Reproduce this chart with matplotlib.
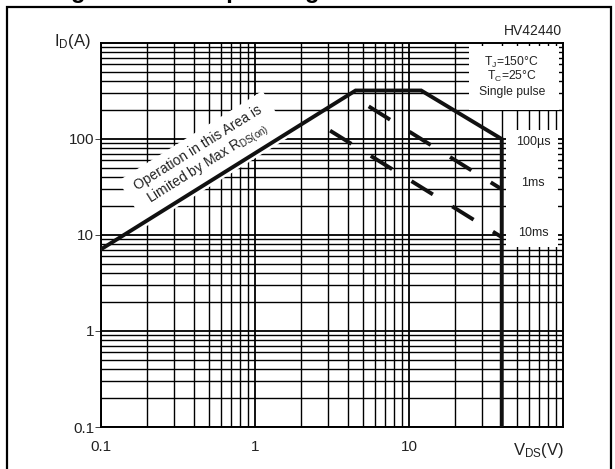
import numpy as np
import matplotlib
matplotlib.use("Agg")
import matplotlib.pyplot as plt
from matplotlib.ticker import LogLocator, NullFormatter
from matplotlib.patches import Rectangle

plt.rcParams['font.family'] = ['Liberation Sans', 'DejaVu Sans']
plt.rcParams['mathtext.fontset'] = 'custom'
plt.rcParams['mathtext.rm'] = 'Liberation Sans'
plt.rcParams['mathtext.it'] = 'Liberation Sans:italic'
plt.rcParams['lines.scale_dashes'] = False

# --- data ---
# SOA boundary: RDS(on) limit -> current limit -> 100us line -> VDSS
soa_v = [0.1, 4.5, 12, 40, 40]
soa_i = [7.1, 320, 320, 100, 0.1]
# 1 ms and 10 ms pulse lines (dashed)
ms1_v = [4.1, 40]
ms1_i = [292, 30]
ms10_v = [2.3, 40]
ms10_i = [163, 9.5]

x_ticks = [0.1, 1, 10]
x_labels = ["0.1", "1", "10"]
y_ticks = [0.1, 1, 10, 100]
y_labels = ["0.1", "1", "10", "100"]
pulse_labels = ["100µs", "1ms", "10ms"]
cond_labels = ["T$_{\\rm J}$=150°C", "T$_{\\rm C}$=25°C", "Single pulse"]

W, H = 615, 469
fig = plt.figure(figsize=(W / 100, H / 100), dpi=100)
ax = fig.add_axes([101 / W, 1 - 427 / H, 462 / W, 384 / H])

ax.set_xscale("log")
ax.set_yscale("log")
ax.set_xlim(0.1, 100)
ax.set_ylim(0.1, 1000)

ax.xaxis.set_minor_locator(LogLocator(base=10, subs=np.arange(2, 10)))
ax.yaxis.set_minor_locator(LogLocator(base=10, subs=np.arange(2, 10)))
ax.xaxis.set_minor_formatter(NullFormatter())
ax.yaxis.set_minor_formatter(NullFormatter())
ax.set_xticks(x_ticks)
ax.set_xticklabels(x_labels)
ax.set_yticks(y_ticks)
ax.set_yticklabels(y_labels)
ax.tick_params(axis="both", which="minor", length=0)
ax.tick_params(axis="x", which="major", length=0, pad=9, labelsize=11, colors="#222222")
ax.tick_params(axis="y", which="major", length=4, width=0.6, pad=1, labelsize=11, colors="#222222")

ax.grid(True, which="major", color="black", lw=1.3)
ax.grid(True, which="minor", color="black", lw=1.0)
ax.set_axisbelow(True)
for s in ax.spines.values():
    s.set_linewidth(1.4)
    s.set_color("black")

# white label panels that hide the grid
ax.add_patch(Rectangle((0.797, 0.826), 0.195, 0.166, transform=ax.transAxes,
                       fc="white", ec="none", zorder=2.5))
ax.add_patch(Rectangle((0.877, 0.470), 0.112, 0.303, transform=ax.transAxes,
                       fc="white", ec="none", zorder=2.5))

# curves
ax.plot(soa_v, soa_i, color="#111111", lw=2.8, solid_joinstyle="miter", zorder=4)
dash = (18.1, (18.1, 16.4))
ax.plot(ms1_v, ms1_i, color="#111111", lw=2.8, linestyle=dash, zorder=4)
ax.plot(ms10_v, ms10_i, color="#111111", lw=2.8, linestyle=dash, zorder=4)

# texts
for lab, yy in zip(cond_labels, [0.950, 0.912, 0.872]):
    ax.text(0.889, yy, lab, transform=ax.transAxes, ha="center", va="center",
            fontsize=8.7, color="#222222", zorder=3)
for lab, yy in zip(pulse_labels, [0.742, 0.636, 0.504]):
    ax.text(0.935, yy, lab, transform=ax.transAxes, ha="center", va="center",
            fontsize=9, color="#222222", zorder=3)

ax.text(0.222, 0.703, "Operation in this Area is\nLimited by Max R$_{\\rm DS(on)}$",
        transform=ax.transAxes, rotation=32, rotation_mode="anchor",
        ha="center", va="center", multialignment="center", fontsize=10,
        color="#222222", linespacing=1.1, zorder=3,
        bbox=dict(fc="white", ec="none", pad=8))

ax.text(-0.022, 1.003, "I$_{\\rm D}$(A)", transform=ax.transAxes, ha="right",
        va="center", fontsize=12, color="#222222")
ax.text(0.997, 1.03, "HV42440", transform=ax.transAxes, ha="right",
        va="center", fontsize=10, color="#222222")
ax.text(0.947, -0.06, "V$_{\\rm DS}$(V)", transform=ax.transAxes, ha="center",
        va="center", fontsize=12, color="#222222")

# page frame and clipped caption above it (only descenders show)
fig.add_artist(Rectangle((7 / W, -0.05), (611 - 7) / W, 1.05 - 7 / H,
                         transform=fig.transFigure, fill=False, ec="black", lw=1.6))
fig.text(50 / W, 1 - 3 / H, "Figure 2. Safe operating area", fontsize=17,
         fontweight="bold", ha="left", va="bottom")

fig.savefig("out.png", dpi=100)
